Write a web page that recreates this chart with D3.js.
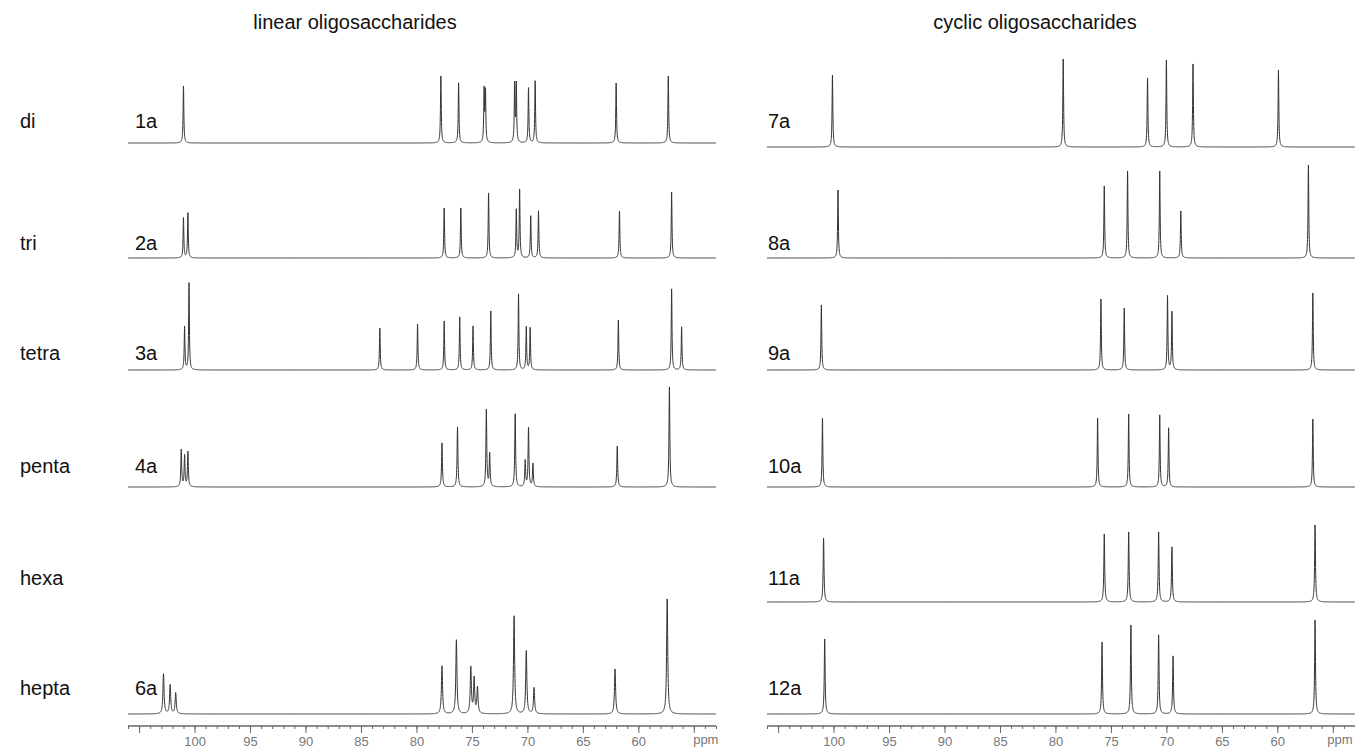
<!DOCTYPE html>
<html>
<head>
<meta charset="utf-8">
<script src="https://cdn.jsdelivr.net/npm/d3@7/dist/d3.min.js"></script>
<style>
  body { margin: 0; background: #fff; }
  text { font-family: "Liberation Sans", Arial, sans-serif; }
</style>
</head>
<body>
<svg width="1355" height="753"></svg>
<script>
// ---- data: [ppm, intensity] ----
const rowNames = ["di", "tri", "tetra", "penta", "hexa", "hepta"]
const linearLabels = ["1a", "2a", "3a", "4a", null, "6a"]
const cyclicLabels = ["7a", "8a", "9a", "10a", "11a", "12a"]
const panelTitles = ["linear oligosaccharides", "cyclic oligosaccharides"]
const majorTicks = [105, 100, 95, 90, 85, 80, 75, 70, 65, 60, 55]
const tickLabels = ["", "100", "95", "90", "85", "80", "75", "70", "65", "60", ""]
const unitLabel = "ppm"

const peaks1a = [[101.0, 57], [77.8, 67], [76.2, 60], [73.9, 52], [73.78, 50], [71.15, 58], [71.0, 58], [69.9, 55], [69.3, 62], [62.0, 60], [57.3, 67]]
const peaks2a = [[101.0, 40], [100.6, 45], [77.5, 50], [76.0, 50], [73.5, 65], [71.0, 48], [70.7, 68], [69.7, 42], [69.0, 47], [61.7, 47], [57.0, 66]]
const peaks3a = [[100.9, 43], [100.5, 87], [83.3, 42], [79.9, 46], [77.5, 49], [76.1, 53], [74.9, 44], [73.3, 59], [70.8, 76], [70.1, 43], [69.75, 42], [61.8, 50], [57.0, 81], [56.1, 43]]
const peaks4a = [[101.2, 37], [100.9, 31], [100.6, 35], [77.7, 44], [76.3, 60], [73.7, 77], [73.4, 33], [71.1, 73], [70.2, 26], [69.9, 59], [69.5, 23], [61.9, 41], [57.2, 100]]
const peaks6a = [[102.8, 40], [102.2, 29], [101.7, 21], [77.7, 48], [76.4, 74], [75.1, 46], [74.8, 35], [74.5, 26], [71.2, 98], [70.1, 63], [69.4, 26], [62.1, 45], [57.4, 115]]
const peaks7a = [[100.1, 72], [79.3, 88], [71.7, 69], [70.0, 87], [67.6, 83], [59.9, 77]]
const peaks8a = [[99.6, 68], [75.6, 72], [73.5, 87], [70.6, 87], [68.7, 47], [57.2, 93]]
const peaks9a = [[101.1, 65], [75.9, 71], [73.8, 62], [69.9, 74], [69.5, 58], [56.8, 77]]
const peaks10a = [[101.0, 69], [76.2, 69], [73.4, 73], [70.6, 72], [69.8, 59], [56.8, 68]]
const peaks11a = [[100.9, 64], [75.6, 68], [73.4, 70], [70.7, 70], [69.5, 55], [56.6, 77]]
const peaks12a = [[100.8, 75], [75.8, 72], [73.2, 89], [70.7, 79], [69.4, 58], [56.6, 94]]

const linearPeaks = [peaks1a, peaks2a, peaks3a, peaks4a, null, peaks6a]
const cyclicPeaks = [peaks7a, peaks8a, peaks9a, peaks10a, peaks11a, peaks12a]

// ---- layout ----
const svg = d3.select("svg")
const ppmDomain = [106, 53]
const panels = [
  { range: [128, 716], baselines: [143, 258, 370, 487, 602, 714], labelX: 135, peaks: linearPeaks, labels: linearLabels, titleX: 355, widths: [0.04, 0.04, 0.04, 0.045, 0.04, 0.06] },
  { range: [767, 1355], baselines: [147, 258, 370, 487, 602, 714], labelX: 768, peaks: cyclicPeaks, labels: cyclicLabels, titleX: 1035, widths: [0.04, 0.04, 0.04, 0.04, 0.045, 0.045] }
]
const labelY = [121, 243, 353, 466, 578, 688]
const axisY = 726

const sampleGrid = d3.range(ppmDomain[0], ppmDomain[1], -0.01)

// lorentzian line shape for each listed peak
const spectrum = (peaks, w) => sampleGrid.map(p => {
  let v = 0
  peaks.forEach(([p0, h]) => {
    const d = (p - p0) / w
    v += h / (1 + d * d)
  })
  return [p, v]
})

// row labels
svg.selectAll(".row-name").data(rowNames)
  .enter().append("text")
  .attr("class", "row-name")
  .attr("x", 20)
  .attr("y", (d, i) => labelY[i])
  .attr("dy", "0.35em")
  .attr("font-size", 20)
  .attr("fill", "#111")
  .text(d => d)

panels.forEach((panel, pi) => {
  const xScale = d3.scaleLinear().domain(ppmDomain).range(panel.range)

  svg.append("text")
    .attr("x", panel.titleX)
    .attr("y", 22)
    .attr("dy", "0.35em")
    .attr("text-anchor", "middle")
    .attr("font-size", 20)
    .attr("fill", "#111")
    .text(panelTitles[pi])

  panel.peaks.forEach((peaks, ri) => {
    if (!peaks) return
    const base = panel.baselines[ri]
    const yScale = d3.scaleLinear().domain([0, 120]).range([base, base - 120])
    const line = d3.line()
      .x(d => xScale(d[0]))
      .y(d => yScale(d[1]))

    svg.append("path")
      .datum(spectrum(peaks, panel.widths[ri]))
      .attr("d", line)
      .attr("fill", "none")
      .attr("stroke", "#333")
      .attr("stroke-width", 1)

    svg.append("text")
      .attr("x", panel.labelX)
      .attr("y", labelY[ri])
      .attr("dy", "0.35em")
      .attr("font-size", 20)
      .attr("fill", "#111")
      .text(panel.labels[ri])
  })

  // ppm axis
  const axisG = svg.append("g")
    .attr("transform", `translate(0, ${axisY})`)
  const minorAxis = d3.axisBottom(xScale)
    .tickValues(d3.range(106, 52.5, -1))
    .tickSize(3)
    .tickFormat("")
  const majorAxis = d3.axisBottom(xScale)
    .tickValues(majorTicks)
    .tickSize(7)
    .tickPadding(4)
    .tickFormat((d, i) => tickLabels[i])
  axisG.append("g").call(minorAxis)
  const majorG = axisG.append("g").call(majorAxis)
  axisG.selectAll(".domain")
    .attr("d", `M${panel.range[0]},0H${panel.range[1]}`)
    .attr("stroke", "#666")
  axisG.selectAll(".tick line").attr("stroke", "#666")
  majorG.selectAll(".tick text")
    .attr("font-size", 13)
    .attr("fill", "#777")
  majorG.append("text")
    .attr("x", Math.min(xScale(55) + 12, 1340))
    .attr("y", 18)
    .attr("text-anchor", "middle")
    .attr("font-family", "Liberation Serif, serif")
    .attr("font-size", 13)
    .attr("fill", "#777")
    .text(unitLabel)
})
</script>
</body>
</html>
